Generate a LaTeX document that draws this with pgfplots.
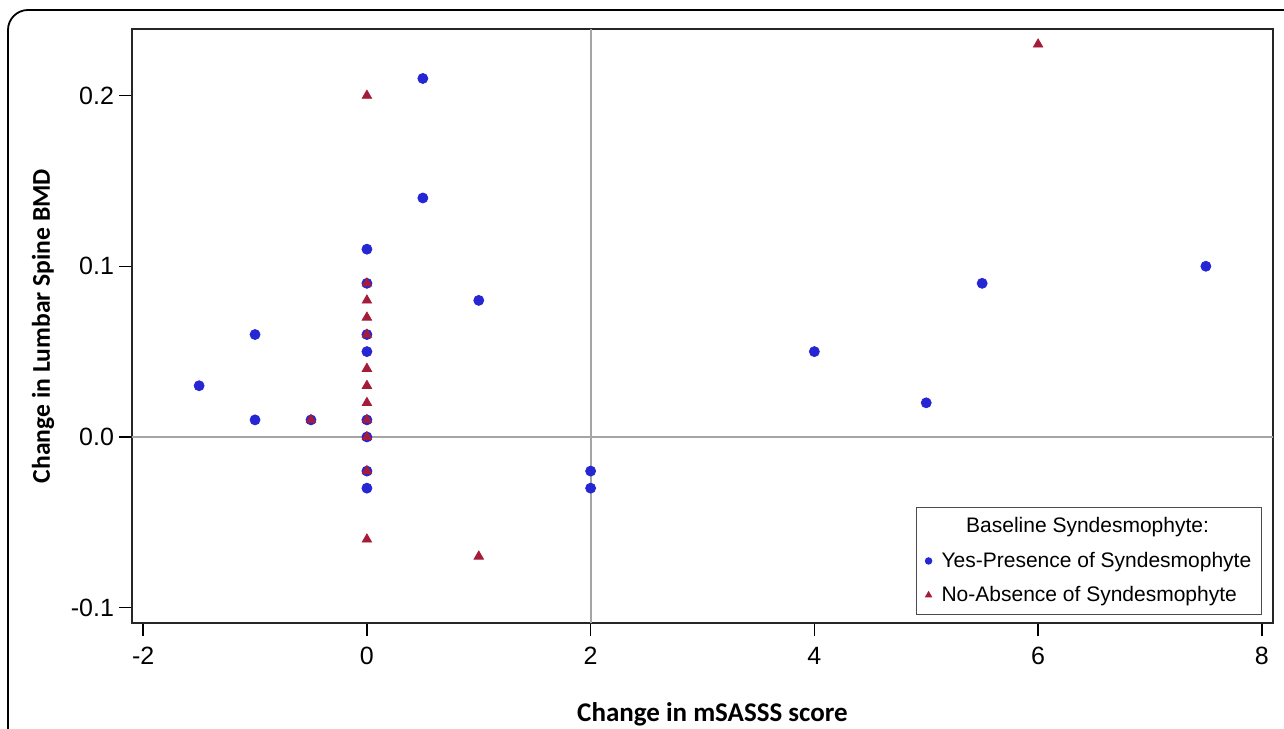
\documentclass[border=0pt]{standalone}
\usepackage{fontspec}
\setmainfont{Liberation Sans}
\newfontfamily\carlito{Carlito}
\usepackage{pgfplots}
\pgfplotsset{compat=1.18}

\definecolor{yesblue}{RGB}{38,38,212}
\definecolor{nored}{RGB}{165,28,58}
\definecolor{refgray}{RGB}{165,165,165}

\begin{document}
\begin{tikzpicture}
\useasboundingbox (0,0) rectangle (642pt,364pt);
% panel frame (cut by the page at right and bottom)
\draw[line width=0.9pt, rounded corners=10pt] (4pt,-10pt) -- (4pt,359pt) -- (660pt,359pt);

\begin{axis}[
    at={(66pt,52.5pt)}, anchor=south west,
    scale only axis,
    width=570.5pt, height=297pt,
    xmin=-2.1, xmax=8.1,
    ymin=-0.109, ymax=0.239,
    xtick={-2,0,2,4,6,8},
    xticklabels={-2,0,2,4,6,8},
    ytick={-0.1,0,0.1,0.2},
    yticklabels={-0.1,0.0,0.1,0.2},
    tick align=outside,
    xtick pos=bottom, ytick pos=left,
    major tick length=6.5pt,
    tick style={line width=0.7pt, black},
    axis line style={line width=1pt, black!85},
    ticklabel style={font=\fontsize{12.5}{14}\selectfont},
    xticklabel style={yshift=-2pt},
    yticklabel style={xshift=1pt},
    xlabel={Change in mSASSS score},
    ylabel={Change in Lumbar Spine BMD},
    xlabel style={font=\carlito\bfseries\fontsize{13.5}{16}\selectfont,
        at={(axis description cs:0.5,0)}, anchor=base, yshift=-49pt, xshift=5pt},
    ylabel style={font=\carlito\bfseries\fontsize{12.8}{15}\selectfont,
        at={(axis description cs:0,0.5)}, anchor=center, yshift=44.5pt},
    legend style={
        at={(1,0)}, anchor=south east, xshift=-5.5pt, yshift=4pt,
        font=\fontsize{10.5}{12}\selectfont,
        draw=black!70, line width=0.7pt,
        inner xsep=3pt, inner ysep=3pt,
        row sep=4pt,
        cells={anchor=west},
    },
    legend image code/.code={\draw[mark repeat=2,mark phase=2,#1] plot coordinates {(0pt,0pt)(3pt,0pt)(6pt,0pt)};},
    legend image post style={mark size=1.5pt},
]
\addlegendimage{empty legend}
\addlegendentry{\hspace{-4pt}\makebox[160pt][c]{Baseline Syndesmophyte:}}

% reference lines
\addplot[refgray, line width=0.9pt, forget plot] coordinates {(-2.1,0) (8.1,0)};
\addplot[refgray, line width=0.9pt, forget plot] coordinates {(2,-0.109) (2,0.239)};

% Yes - presence of syndesmophyte
\addplot[only marks, mark=*, mark size=2.5pt, color=yesblue, mark options={fill=yesblue}] coordinates {
    (-1.5,0.03) (-1,0.06) (-1,0.01) (-0.5,0.01)
    (0,0.11) (0,0.09) (0,0.06) (0,0.05) (0,0.01) (0,0.00) (0,-0.02) (0,-0.03)
    (0.5,0.21) (0.5,0.14) (1,0.08)
    (2,-0.02) (2,-0.03)
    (4,0.05) (5,0.02) (5.5,0.09) (7.5,0.10)
};
\addlegendentry{\hspace{3pt}Yes-Presence of Syndesmophyte}

% No - absence of syndesmophyte
\addplot[only marks, mark=triangle*, mark size=2.7pt, color=nored, mark options={fill=nored}] coordinates {
    (-0.5,0.01)
    (0,0.20) (0,0.09) (0,0.08) (0,0.07) (0,0.06) (0,0.04) (0,0.03) (0,0.02)
    (0,0.01) (0,0.00) (0,-0.02) (0,-0.06)
    (1,-0.07) (6,0.23)
};
\addlegendentry{\hspace{3pt}No-Absence of Syndesmophyte}
\end{axis}
\end{tikzpicture}
\end{document}
